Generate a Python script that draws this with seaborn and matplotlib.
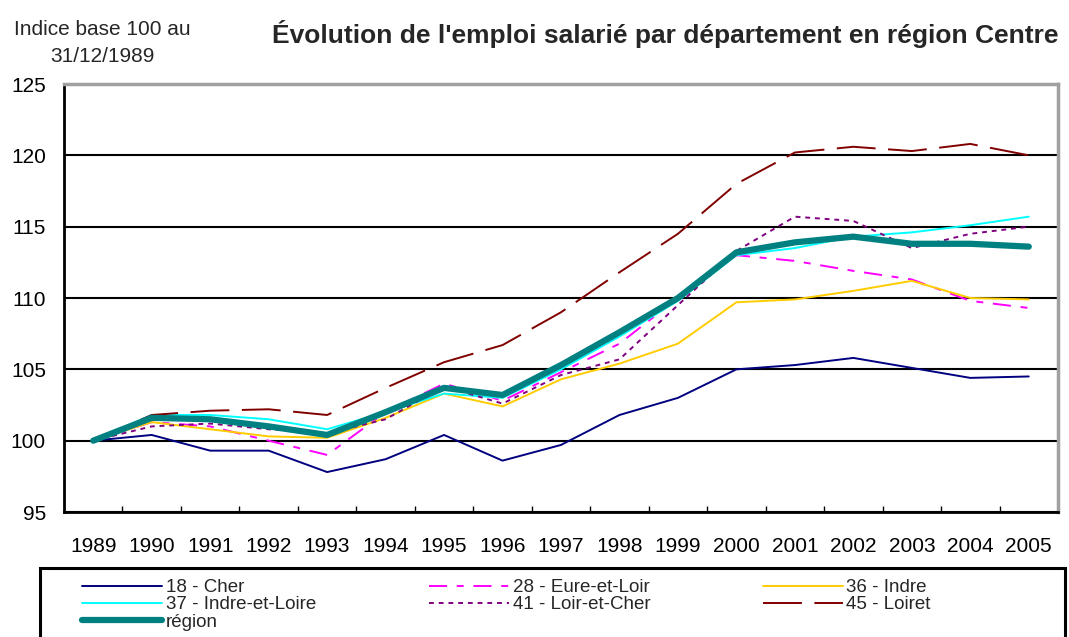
import seaborn as sns
import pandas as pd
import matplotlib.pyplot as plt
from matplotlib.patches import Rectangle

years = ['1989', '1990', '1991', '1992', '1993', '1994', '1995', '1996', '1997',
         '1998', '1999', '2000', '2001', '2002', '2003', '2004', '2005']

cher = [100.0, 100.4, 99.3, 99.3, 97.8, 98.7, 100.4, 98.6, 99.7,
        101.8, 103.0, 105.0, 105.3, 105.8, 105.1, 104.4, 104.5]
eure_et_loir = [100.0, 101.3, 101.0, 100.0, 99.0, 102.0, 104.0, 102.8, 104.8,
                106.8, 110.0, 113.0, 112.6, 111.9, 111.3, 109.8, 109.3]
indre = [100.0, 101.3, 100.8, 100.3, 100.2, 101.6, 103.3, 102.4, 104.3,
         105.4, 106.8, 109.7, 109.9, 110.5, 111.2, 110.0, 109.9]
indre_et_loire = [100.0, 101.8, 101.8, 101.5, 100.8, 102.0, 103.3, 103.0, 105.0,
                  107.3, 109.8, 113.0, 113.5, 114.3, 114.6, 115.1, 115.7]
loir_et_cher = [100.0, 101.0, 101.2, 100.8, 100.5, 101.5, 103.8, 102.6, 104.6,
                105.7, 109.5, 113.3, 115.7, 115.4, 113.5, 114.5, 115.0]
loiret = [100.0, 101.8, 102.1, 102.2, 101.8, 103.7, 105.5, 106.7, 109.0,
          111.8, 114.5, 118.0, 120.2, 120.6, 120.3, 120.8, 120.0]
region = [100.0, 101.6, 101.5, 101.0, 100.4, 102.0, 103.7, 103.2, 105.3,
          107.6, 110.0, 113.2, 113.9, 114.3, 113.8, 113.8, 113.6]

series_names = ['18 - Cher', '28 - Eure-et-Loir', '36 - Indre',
                '37 - Indre-et-Loire', '41 - Loir-et-Cher', '45 - Loiret', 'région']
series_values = [cher, eure_et_loir, indre, indre_et_loire, loir_et_cher, loiret, region]

# styles des courbes (couleur, epaisseur, pointille)
styles = {
    '18 - Cher': ('#000080', 1.4, '-'),
    '28 - Eure-et-Loir': ('#FF00FF', 1.4, (0, (13, 7, 5, 7))),
    '36 - Indre': ('#FFCC00', 1.4, '-'),
    '37 - Indre-et-Loire': ('#00FFFF', 1.4, '-'),
    '41 - Loir-et-Cher': ('#800080', 1.4, (0, (3.5, 3.5))),
    '45 - Loiret': ('#800000', 1.4, (0, (28, 9))),
    'région': ('#008080', 4.5, '-'),
}

df = pd.DataFrame({'x': list(range(len(years))) * len(series_names),
                   'valeur': sum(series_values, []),
                   'serie': [n for n in series_names for _ in years]})

sns.set_theme(style='white')
plt.rcParams['font.family'] = ['Liberation Sans', 'DejaVu Sans']
plt.rcParams['lines.scale_dashes'] = False

fig = plt.figure(figsize=(10.69, 6.37), dpi=100)
ax = fig.add_axes([64 / 1069, 1 - 512 / 637, 994 / 1069, 428 / 637])

handles = {}
for name in series_names:
    color, lw, ls = styles[name]
    sub = df[df['serie'] == name]
    sns.lineplot(data=sub, x='x', y='valeur', ax=ax, color=color, linewidth=lw,
                 linestyle=ls, label=name, legend=False)
    handles[name] = ax.lines[-1]

ax.set_xlim(-0.5, len(years) - 0.5)
ax.set_ylim(95, 125)
ax.set_yticks(range(95, 126, 5))
ax.set_xticks(range(len(years)))
ax.set_xticklabels(years)
ax.set_xticks([i + 0.5 for i in range(len(years) - 1)], minor=True)
ax.tick_params(axis='both', which='major', length=0, labelsize=15, colors='black')
ax.tick_params(axis='y', pad=13)
ax.tick_params(axis='x', pad=18)
ax.tick_params(axis='x', which='minor', direction='in', length=4, width=1,
               color='black', bottom=True)
ax.set_xlabel('')
ax.set_ylabel('')
ax.set_axisbelow(True)
ax.yaxis.grid(True, color='black', linewidth=1.5)
ax.xaxis.grid(False)

for s in ['left', 'bottom']:
    ax.spines[s].set_color('black')
    ax.spines[s].set_linewidth(2)
for s in ['top', 'right']:
    ax.spines[s].set_color('#a0a0a0')
    ax.spines[s].set_linewidth(2.5)

fig.text(665 / 1069, 1 - 34 / 637,
         "Évolution de l'emploi salarié par département en région Centre",
         ha='center', va='center', fontsize=19, fontweight='bold')
fig.text(102 / 1069, 1 - 43 / 637, 'Indice base 100 au\n31/12/1989',
         ha='center', va='center', fontsize=15, linespacing=1.55)

# cadre de la legende, coupe par le bas de l'image
fig.patches.append(Rectangle((40 / 1069, -0.05), 1025 / 1069, 0.05 + 1 - 568 / 637,
                             transform=fig.transFigure, fill=False,
                             edgecolor='black', linewidth=2.2))

order = ['18 - Cher', '37 - Indre-et-Loire', 'région',
         '28 - Eure-et-Loir', '41 - Loir-et-Cher',
         '36 - Indre', '45 - Loiret']
fig.legend([handles[n] for n in order], order, loc='upper left',
           bbox_to_anchor=(70 / 1069, 1 - 567 / 637), ncol=3, frameon=False,
           fontsize=13.5, handlelength=4.27, handletextpad=0.2,
           columnspacing=6.0, labelspacing=0.0, borderpad=0.15)

plt.savefig('out.png', dpi=100)
